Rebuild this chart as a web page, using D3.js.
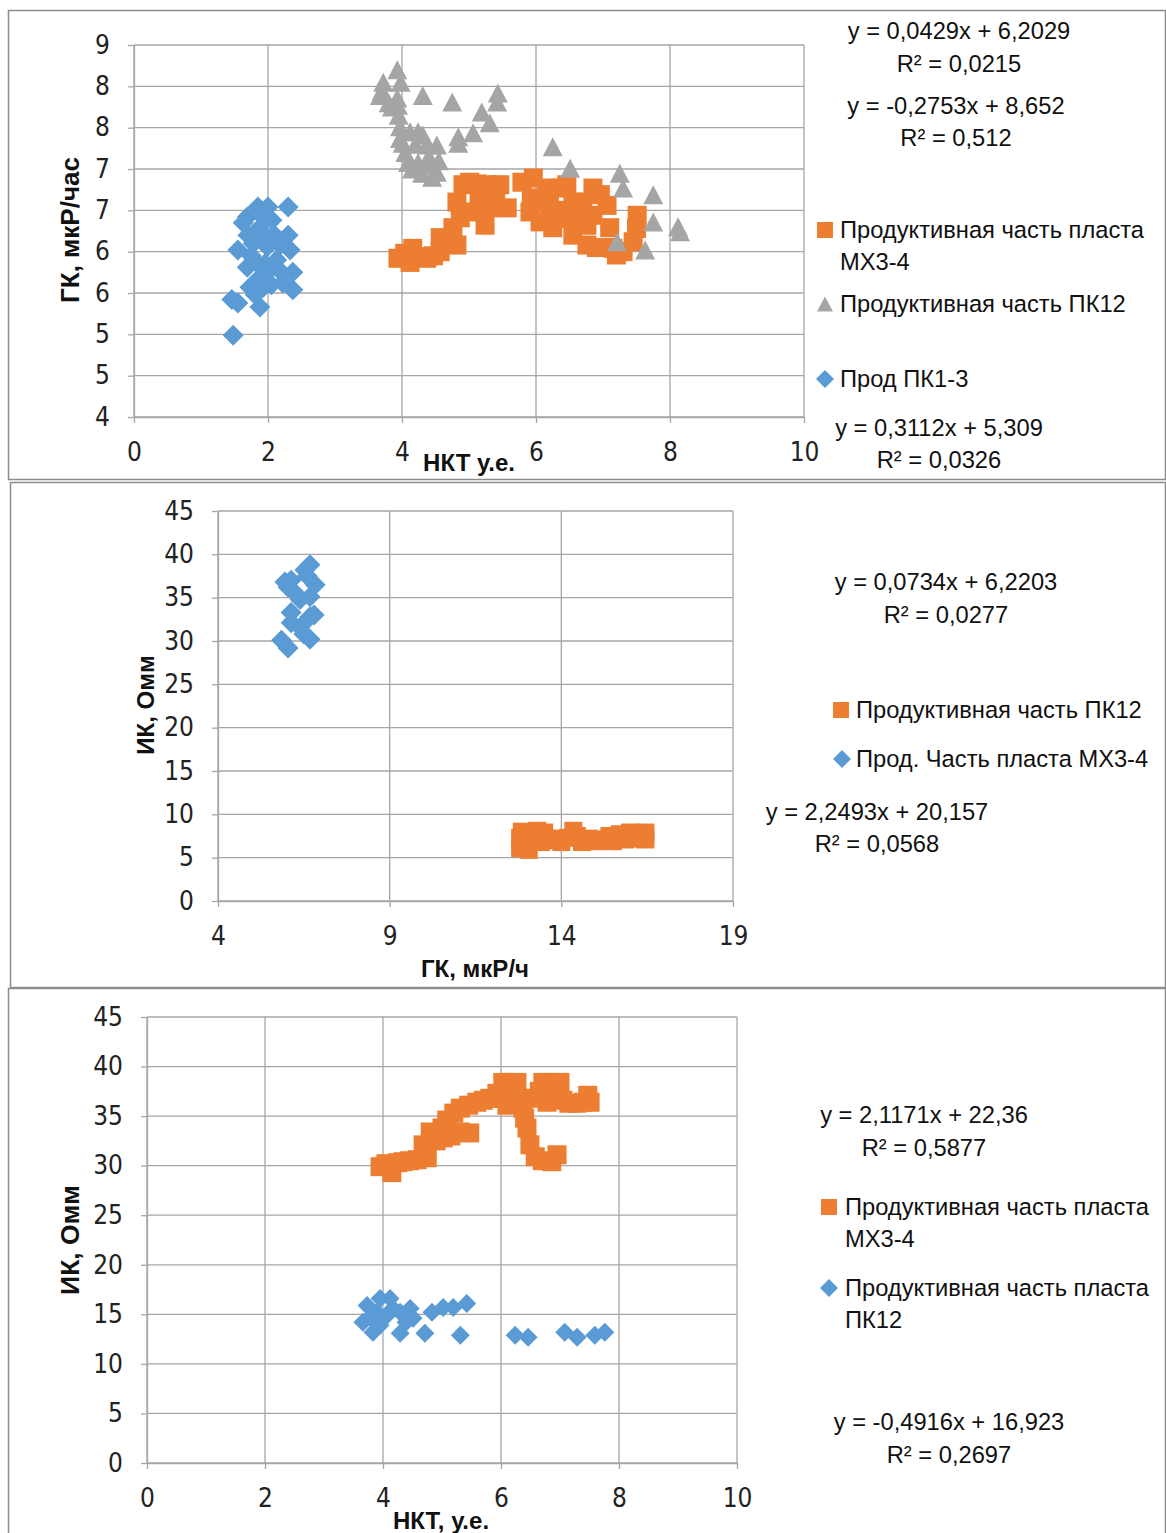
<!DOCTYPE html>
<html>
<head>
<meta charset="utf-8">
<script src="https://cdn.jsdelivr.net/npm/d3@7"></script>
<style>
  body { margin: 0; background: #fff; }
  svg { display: block; }
  .tick text { font-family: "Liberation Sans Narrow", "DejaVu Sans Condensed", sans-serif; font-size: 26px; fill: #222; }
  .lbl { font-family: "Liberation Sans", Arial, sans-serif; font-size: 23.7px; fill: #111; }
  .ttl { font-family: "Liberation Sans Narrow", "Liberation Sans", sans-serif; font-weight: bold; fill: #111; }
</style>
</head>
<body>
<svg id="chart" width="1166" height="1533"></svg>
<script>
// ---- panel 1: НКТ vs ГК
var p1XTicks = [0, 2, 4, 6, 8, 10];
var p1YTicks = [4, 4.5, 5, 5.5, 6, 6.5, 7, 7.5, 8, 8.5];
var p1YLabels = ["4", "5", "5", "6", "6", "7", "7", "8", "8", "9"];

var p1Orange = [ // Продуктивная часть пласта МХ3-4
  [3.94,5.92],[4.04,5.98],[4.12,5.87],[4.16,6.04],[4.27,5.94],[4.37,5.92],[4.47,5.95],[4.57,6.00],
  [4.57,6.17],[4.67,6.12],[4.76,6.29],[4.82,6.08],[4.87,6.41],[4.82,6.60],[4.91,6.81],[5.01,6.84],
  [5.12,6.82],[5.27,6.81],[5.38,6.80],[5.46,6.81],[5.24,6.32],[5.31,6.53],[5.57,6.53],[5.09,6.48],
  [5.15,6.65],[5.40,6.62],[5.79,6.84],[5.96,6.89],[5.91,6.48],[5.93,6.65],[6.06,6.36],[6.05,6.60],
  [6.16,6.77],[6.36,6.77],[6.46,6.81],[6.55,6.60],[6.25,6.29],[6.30,6.50],[6.40,6.40],[6.55,6.20],
  [6.65,6.40],[6.76,6.08],[6.85,6.77],[6.96,6.69],[6.85,6.44],[7.06,6.56],[7.10,6.29],[7.15,6.04],
  [7.30,6.00],[7.45,6.12],[7.51,6.44],[7.50,6.28],[6.76,6.32],[6.70,6.60],[6.20,6.55],[7.05,6.05],
  [7.20,5.96],[6.90,6.05]
];
var p1Gray = [ // Продуктивная часть ПК12
  [3.72,8.05],[3.93,8.20],[3.67,7.89],[3.93,7.86],[3.94,7.77],[4.31,7.89],[4.75,7.81],[5.43,7.92],
  [5.42,7.81],[5.19,7.69],[5.31,7.56],[5.06,7.44],[4.84,7.39],[4.84,7.31],[3.97,7.51],[4.12,7.45],
  [4.24,7.45],[4.31,7.41],[4.01,7.31],[4.37,7.29],[4.52,7.29],[4.09,7.08],[4.24,7.08],[4.39,7.05],
  [4.52,6.96],[3.97,7.37],[6.25,7.27],[6.51,7.01],[7.25,6.95],[7.30,6.77],[7.75,6.69],[7.75,6.36],
  [8.12,6.30],[8.15,6.24],[7.21,6.12],[7.63,6.02],[3.70,7.95],[3.80,7.80],[3.98,8.05],[3.85,7.75],
  [3.95,7.65],[4.05,7.20],[4.20,7.30],[4.40,7.15],[4.15,7.00],[4.45,6.90],[4.55,7.10],[4.30,6.95]
];
var p1Blue = [ // Прод ПК1-3
  [1.85,6.54],[2.00,6.54],[2.30,6.54],[1.69,6.42],[1.63,6.35],[2.30,6.20],[1.55,6.02],[2.33,6.02],
  [1.78,6.10],[2.13,5.90],[2.37,5.75],[2.37,5.54],[2.22,5.62],[1.88,5.69],[1.73,5.57],[1.46,5.42],
  [1.55,5.38],[1.88,5.33],[1.93,5.57],[1.48,4.99],[1.84,6.26],[1.99,6.06],[1.84,5.86],[1.69,5.81],
  [2.06,6.38],[1.91,6.24],[2.18,6.08],[2.03,5.78],[1.81,5.48],[1.95,6.40],[2.10,6.20],[1.75,5.95],
  [2.05,5.60],[1.95,5.85],[2.20,5.75],[1.70,6.20]
];

// ---- panel 2: ГК vs ИК
var p2XTicks = [4, 9, 14, 19];
var p2YTicks = [0, 5, 10, 15, 20, 25, 30, 35, 40, 45];
var p2Orange = [ // Продуктивная часть ПК12
  [12.8,6.1],[12.8,7.3],[12.85,8.0],[13.0,6.6],[13.05,5.9],[13.2,7.5],[13.3,8.1],[13.4,6.8],
  [13.5,7.9],[13.55,7.2],[13.7,7.0],[13.9,7.2],[14.0,6.8],[14.2,7.3],[14.35,8.1],[14.45,7.5],
  [14.6,6.8],[14.8,7.2],[15.0,6.9],[15.2,7.1],[15.4,7.5],[15.5,6.9],[15.7,7.7],[15.85,7.1],
  [16.0,7.9],[16.15,7.2],[16.3,7.6],[16.45,7.1],[16.45,7.9]
];
var p2Blue = [ // Прод. Часть пласта МХ3-4
  [6.04,29.2],[5.85,30.1],[6.68,30.2],[6.13,32.1],[6.68,32.8],[6.13,33.3],[6.04,36.2],[6.13,37.0],
  [6.53,38.2],[6.68,38.8],[6.83,36.5],[6.68,35.1],[6.39,34.8],[6.39,31.6],[5.95,36.8],[6.80,33.0],
  [6.50,30.8],[6.25,35.5],[6.60,37.5]
];

// ---- panel 3: НКТ vs ИК
var p3XTicks = [0, 2, 4, 6, 8, 10];
var p3YTicks = [0, 5, 10, 15, 20, 25, 30, 35, 40, 45];
var p3Orange = [ // Продуктивная часть пласта МХ3-4
  [3.95,29.9],[4.05,30.2],[4.15,29.3],[4.25,30.3],[4.34,30.4],[4.45,30.5],[4.58,30.6],[4.75,30.8],
  [4.68,32.1],[4.80,33.4],[4.90,32.5],[5.02,32.8],[5.08,34.6],[5.00,33.8],[5.20,35.3],[5.31,35.8],
  [5.15,33.0],[5.31,33.4],[5.47,33.3],[5.45,36.1],[5.59,36.4],[5.70,36.6],[5.81,36.8],[5.93,37.3],
  [6.03,38.4],[6.15,38.4],[6.27,38.4],[6.00,36.8],[6.10,36.1],[6.25,36.5],[6.37,35.8],[6.44,33.8],
  [6.40,34.8],[6.49,32.1],[6.58,30.9],[6.70,30.5],[6.86,30.4],[6.95,31.1],[6.55,36.8],[6.71,38.4],
  [6.85,38.4],[7.00,38.4],[6.65,37.5],[6.90,37.0],[7.05,36.6],[6.78,36.4],[7.15,36.3],[7.29,36.3],
  [7.40,36.4],[7.51,36.4],[7.47,37.1]
];
var p3Blue = [ // Продуктивная часть пласта ПК12
  [3.73,15.9],[3.66,14.2],[3.83,13.2],[3.95,16.6],[4.12,16.6],[4.07,14.9],[4.29,15.2],[4.29,13.1],
  [4.46,15.6],[4.51,14.6],[4.71,13.1],[4.83,15.2],[5.02,15.7],[5.19,15.7],[5.42,16.1],[5.31,12.9],
  [6.24,12.9],[6.46,12.7],[7.08,13.2],[7.29,12.7],[7.59,12.9],[7.76,13.2],[3.90,15.2],[3.78,14.7],
  [4.17,15.6],[4.39,14.2],[3.95,13.9]
];

var ORANGE = "#ED7D31", GRAY = "#A5A5A5", BLUE = "#5B9BD5";

var svg = d3.select("#chart");

var panels = [
  {
    frame: [8.5, 10.5, 1157, 469],
    left: 134, right: 804, top: 45, bottom: 417,
    xDomain: [0, 10], yDomain: [4, 8.5],
    xTicks: p1XTicks, yTicks: p1YTicks, yLabels: p1YLabels,
    xTitle: ["НКТ у.е.", 469, 462, 24], yTitle: ["ГК, мкР/час", 70, 230, 26],
    series: [
      {data: p1Orange, shape: "square", size: 19, color: ORANGE},
      {data: p1Gray, shape: "triangle", size: 20, color: GRAY},
      {data: p1Blue, shape: "diamond", size: 21, color: BLUE}
    ],
    texts: [
      ["y = 0,0429x + 6,2029", 959, 31, "middle"], ["R² = 0,0215", 959, 64, "middle"],
      ["y = -0,2753x + 8,652", 956, 106, "middle"], ["R² = 0,512", 956, 138, "middle"],
      ["Продуктивная часть пласта", 840, 230, "start"], ["МХ3-4", 840, 262, "start"],
      ["Продуктивная часть ПК12", 840, 304, "start"],
      ["Прод ПК1-3", 840, 379, "start"],
      ["y = 0,3112x + 5,309", 939, 428, "middle"], ["R² = 0,0326", 939, 460, "middle"]
    ],
    keys: [["square", ORANGE, 825, 230], ["triangle", GRAY, 825, 304], ["diamond", BLUE, 825, 379]]
  },
  {
    frame: [10.5, 482.5, 1155, 505],
    left: 218, right: 733, top: 511, bottom: 901,
    xDomain: [4, 19], yDomain: [0, 45],
    xTicks: p2XTicks, yTicks: p2YTicks, yLabels: null,
    xTitle: ["ГК, мкР/ч", 475, 968, 24], yTitle: ["ИК, Омм", 145, 705, 24],
    series: [
      {data: p2Orange, shape: "square", size: 18, color: ORANGE},
      {data: p2Blue, shape: "diamond", size: 21, color: BLUE}
    ],
    texts: [
      ["y = 0,0734x + 6,2203", 946, 582, "middle"], ["R² = 0,0277", 946, 615, "middle"],
      ["Продуктивная часть ПК12", 856, 710, "start"],
      ["Прод. Часть пласта МХ3-4", 856, 759, "start"],
      ["y = 2,2493x + 20,157", 877, 812, "middle"], ["R² = 0,0568", 877, 844, "middle"]
    ],
    keys: [["square", ORANGE, 841, 710], ["diamond", BLUE, 842, 759]]
  },
  {
    frame: [8.5, 988.5, 1157, 560],
    left: 147, right: 737, top: 1017, bottom: 1463,
    xDomain: [0, 10], yDomain: [0, 45],
    xTicks: p3XTicks, yTicks: p3YTicks, yLabels: null,
    xTitle: ["НКТ, у.е.", 441, 1520, 24], yTitle: ["ИК, Омм", 70, 1240, 26.5],
    series: [
      {data: p3Orange, shape: "square", size: 19, color: ORANGE},
      {data: p3Blue, shape: "diamond", size: 19, color: BLUE}
    ],
    texts: [
      ["y = 2,1171x + 22,36", 924, 1115, "middle"], ["R² = 0,5877", 924, 1148, "middle"],
      ["Продуктивная часть пласта", 845, 1207, "start"], ["МХ3-4", 845, 1239, "start"],
      ["Продуктивная часть пласта", 845, 1288, "start"], ["ПК12", 845, 1320, "start"],
      ["y = -0,4916x + 16,923", 949, 1422, "middle"], ["R² = 0,2697", 949, 1455, "middle"]
    ],
    keys: [["square", ORANGE, 829, 1207], ["diamond", BLUE, 829, 1288]]
  }
];

// marker path; size = visible width in px
function marker(shape, size) {
  if (shape === "square") return d3.symbol(d3.symbolSquare, size * size)();
  if (shape === "diamond") {
    var s = size / Math.SQRT2;
    return d3.symbol(d3.symbolSquare, s * s)();
  }
  var h = size * 0.95, w = size / 2;
  return "M0," + (-h / 2) + "L" + w + "," + (h / 2) + "L" + (-w) + "," + (h / 2) + "Z";
}
function rot(shape) { return shape === "diamond" ? " rotate(45)" : ""; }

panels.forEach(function(p) {
  var g = svg.append("g");
  var x = d3.scaleLinear().domain(p.xDomain).range([p.left, p.right]);
  var y = d3.scaleLinear().domain(p.yDomain).range([p.bottom, p.top]);

  g.append("rect")
    .attr("x", p.frame[0]).attr("y", p.frame[1])
    .attr("width", p.frame[2]).attr("height", p.frame[3])
    .attr("fill", "none").attr("stroke", "#8c8c8c").attr("stroke-width", 1.5);

  // gridlines
  g.append("g").selectAll("line").data(p.xTicks).join("line")
    .attr("x1", d => x(d)).attr("x2", d => x(d))
    .attr("y1", p.top).attr("y2", p.bottom)
    .attr("stroke", "#a6a6a6").attr("stroke-width", 1.3);
  g.append("g").selectAll("line").data(p.yTicks).join("line")
    .attr("x1", p.left).attr("x2", p.right)
    .attr("y1", d => y(d)).attr("y2", d => y(d))
    .attr("stroke", "#a6a6a6").attr("stroke-width", 1.3);

  // axes
  var ax = g.append("g").attr("transform", "translate(0," + p.bottom + ")")
    .call(d3.axisBottom(x).tickValues(p.xTicks).tickSize(6).tickSizeOuter(0).tickPadding(20)
      .tickFormat(d3.format("d")));
  var ay = g.append("g").attr("transform", "translate(" + p.left + ",0)")
    .call(d3.axisLeft(y).tickValues(p.yTicks).tickSize(6).tickSizeOuter(0).tickPadding(18)
      .tickFormat((d, i) => p.yLabels ? p.yLabels[i] : d3.format("d")(d)));
  [ax, ay].forEach(function(a) {
    a.select(".domain").attr("stroke", "#a6a6a6").attr("stroke-width", 1.3);
    a.selectAll(".tick line").attr("stroke", "#a6a6a6").attr("stroke-width", 1.3);
    a.selectAll(".tick text").attr("fill", null);
  });

  // axis titles
  g.append("text").attr("class", "ttl")
    .attr("x", p.xTitle[1]).attr("y", p.xTitle[2])
    .attr("text-anchor", "middle").attr("dominant-baseline", "central")
    .style("font-size", p.xTitle[3] + "px")
    .text(p.xTitle[0]);
  g.append("text").attr("class", "ttl")
    .attr("transform", "translate(" + p.yTitle[1] + "," + p.yTitle[2] + ") rotate(-90)")
    .attr("text-anchor", "middle").attr("dominant-baseline", "central")
    .style("font-size", p.yTitle[3] + "px")
    .text(p.yTitle[0]);

  // points
  p.series.forEach(function(s) {
    g.append("g").selectAll("path").data(s.data).join("path")
      .attr("d", marker(s.shape, s.size))
      .attr("transform", d => "translate(" + x(d[0]) + "," + y(d[1]) + ")" + rot(s.shape))
      .attr("fill", s.color);
  });

  // legend keys and trendline equations
  g.append("g").selectAll("path").data(p.keys).join("path")
    .attr("d", d => marker(d[0], d[0] === "diamond" ? 18 : 16))
    .attr("transform", d => "translate(" + d[2] + "," + d[3] + ")" + rot(d[0]))
    .attr("fill", d => d[1]);
  g.append("g").selectAll("text").data(p.texts).join("text")
    .attr("class", "lbl")
    .attr("x", d => d[1]).attr("y", d => d[2])
    .attr("text-anchor", d => d[3])
    .attr("dominant-baseline", "central")
    .text(d => d[0]);
});
</script>
</body>
</html>
